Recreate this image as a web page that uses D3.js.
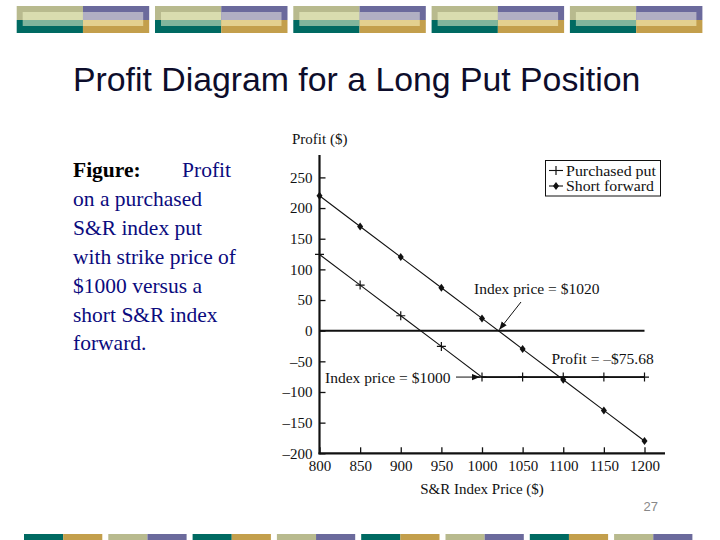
<!DOCTYPE html>
<html>
<head>
<meta charset="utf-8">
<script src="https://cdn.jsdelivr.net/npm/d3@7"></script>
<style>
  body { margin: 0; background: #fff; }
  svg { display: block; }
</style>
</head>
<body>
<svg id="slide" width="720" height="540"></svg>
<script>
// ------------------------------- DATA ----------------------------------------------

const indexPrices = [800, 850, 900, 950, 1000, 1050, 1100, 1150, 1200]; // S&R index price ($)
const putProfit = [124.32, 74.32, 24.32, -25.68, -75.68, -75.68, -75.68, -75.68, -75.68]; // purchased put
const forwardProfit = [220, 170, 120, 70, 20, -30, -80, -130, -180]; // short forward
const yTicks = [-200, -150, -100, -50, 0, 50, 100, 150, 200, 250];
const xTicks = [800, 850, 900, 950, 1000, 1050, 1100, 1150, 1200];
const legendLabels = ['Purchased put', 'Short forward'];

const captionLines = [
  'on a purchased',
  'S&R index put',
  'with strike price of',
  '$1000 versus a',
  'short S&R index',
  'forward.',
];

// banner colours: [outer, inset] for each quadrant
const topColors = {
  tl: ['#b8ba8e', '#d9dcaf'],
  tr: ['#6b6a9c', '#b1afc3'],
  bl: ['#006a62', '#80b59c'],
  br: ['#c39f4c', '#e3d08f'],
};
const bottomPairs = [
  ['#006a62', '#c39f4c'],
  ['#b8ba8e', '#6b6a9c'],
];

// ------------------------------- SETUP ----------------------------------------------

const svg = d3.select('#slide');
const serif = '"Liberation Serif", "Times New Roman", serif';
const sans = '"Liberation Sans", Arial, sans-serif';

// ------------------------------- BANNERS ----------------------------------------------

const topBanner = svg.append('g');
d3.range(5).forEach((i) => {
  const x0 = 16.7 + i * 138.3;
  const w = 132.5;
  const mid = x0 + w / 2;
  const x1 = x0 + w;
  const b = topBanner.append('g');
  // outer quadrants
  b.append('rect').attr('x', x0).attr('y', 6).attr('width', mid - x0).attr('height', 14).attr('fill', topColors.tl[0]);
  b.append('rect').attr('x', mid).attr('y', 6).attr('width', x1 - mid).attr('height', 14).attr('fill', topColors.tr[0]);
  b.append('rect').attr('x', x0).attr('y', 20).attr('width', mid - x0).attr('height', 13).attr('fill', topColors.bl[0]);
  b.append('rect').attr('x', mid).attr('y', 20).attr('width', x1 - mid).attr('height', 13).attr('fill', topColors.br[0]);
  // lighter inset
  b.append('rect').attr('x', x0 + 6).attr('y', 12).attr('width', mid - x0 - 6).attr('height', 8).attr('fill', topColors.tl[1]);
  b.append('rect').attr('x', mid).attr('y', 12).attr('width', x1 - mid - 6).attr('height', 8).attr('fill', topColors.tr[1]);
  b.append('rect').attr('x', x0 + 6).attr('y', 20).attr('width', mid - x0 - 6).attr('height', 6).attr('fill', topColors.bl[1]);
  b.append('rect').attr('x', mid).attr('y', 20).attr('width', x1 - mid - 6).attr('height', 6).attr('fill', topColors.br[1]);
});

const bottomBanner = svg.append('g');
d3.range(8).forEach((i) => {
  const x0 = 24 + i * 84.3;
  const w = 78.3;
  const pair = bottomPairs[i % 2];
  bottomBanner.append('rect').attr('x', x0).attr('y', 534).attr('width', w / 2).attr('height', 6).attr('fill', pair[0]);
  bottomBanner.append('rect').attr('x', x0 + w / 2).attr('y', 534).attr('width', w / 2).attr('height', 6).attr('fill', pair[1]);
});

// ------------------------------- TITLE + CAPTION ----------------------------------------------

svg.append('text')
  .attr('x', 73)
  .attr('y', 90.5)
  .attr('font-family', sans)
  .attr('font-size', 33.8)
  .attr('fill', '#0d0d2b')
  .text('Profit Diagram for a Long Put Position');

const caption = svg.append('g').attr('font-family', serif).attr('font-size', 21.5);
caption.append('text')
  .attr('x', 73).attr('y', 177)
  .attr('font-weight', 'bold').attr('fill', '#000')
  .text('Figure:');
caption.append('text')
  .attr('x', 231).attr('y', 177)
  .attr('text-anchor', 'end').attr('fill', '#0b0b7e')
  .text('Profit');
caption.selectAll('text.line')
  .data(captionLines)
  .join('text')
  .attr('class', 'line')
  .attr('x', 73)
  .attr('y', (d, i) => 177 + (i + 1) * 28.9)
  .attr('fill', '#0b0b7e')
  .text((d) => d);

// ------------------------------- CHART ----------------------------------------------

const x = d3.scaleLinear().domain([800, 1200]).range([319.5, 644.5]);
const y = d3.scaleLinear().domain([-200, 250]).range([453.3, 177.4]);

const chart = svg.append('g').attr('font-family', serif).attr('fill', '#111');

// axes with inward ticks
const yAxis = chart.append('g')
  .attr('transform', `translate(${x(800)},0)`)
  .call(d3.axisLeft(y).tickValues(yTicks).tickSize(-6).tickPadding(7)
    .tickFormat((d) => (d < 0 ? '\u2013' + Math.abs(d) : d)));
yAxis.select('.domain').remove();
yAxis.selectAll('line').attr('stroke', '#111').attr('stroke-width', 1.3);
yAxis.selectAll('text').attr('font-family', serif).attr('font-size', 15).attr('fill', '#111');

const xAxis = chart.append('g')
  .attr('transform', `translate(0,${y(-200)})`)
  .call(d3.axisBottom(x).tickValues(xTicks).tickSize(-6).tickPadding(13)
    .tickFormat((d) => String(d)));
xAxis.select('.domain').remove();
xAxis.selectAll('line').attr('stroke', '#111').attr('stroke-width', 1.3);
xAxis.selectAll('text').attr('font-family', serif).attr('font-size', 15).attr('fill', '#111').attr('dy', '0.3em');

// axis lines
chart.append('line')
  .attr('x1', x(800)).attr('x2', x(800))
  .attr('y1', 155).attr('y2', y(-200) + 1)
  .attr('stroke', '#111').attr('stroke-width', 2.2);
chart.append('line')
  .attr('x1', x(800) - 1).attr('x2', 665)
  .attr('y1', y(-200)).attr('y2', y(-200))
  .attr('stroke', '#111').attr('stroke-width', 2.2);

// zero line
chart.append('line')
  .attr('x1', x(800)).attr('x2', x(1200))
  .attr('y1', y(0)).attr('y2', y(0))
  .attr('stroke', '#111').attr('stroke-width', 2);

// axis titles
chart.append('text')
  .attr('x', 292).attr('y', 144)
  .attr('font-size', 15)
  .text('Profit ($)');
chart.append('text')
  .attr('x', 482).attr('y', 494)
  .attr('text-anchor', 'middle')
  .attr('font-size', 15)
  .text('S&R Index Price ($)');

// series
const putData = indexPrices.map((p, i) => ({ price: p, profit: putProfit[i] }));
const fwdData = indexPrices.map((p, i) => ({ price: p, profit: forwardProfit[i] }));

const line = d3.line().x((d) => x(d.price)).y((d) => y(d.profit));

chart.append('path')
  .datum(fwdData)
  .attr('d', line)
  .attr('fill', 'none')
  .attr('stroke', '#111')
  .attr('stroke-width', 1.1);

chart.append('path')
  .datum(putData)
  .attr('d', line)
  .attr('fill', 'none')
  .attr('stroke', '#111')
  .attr('stroke-width', 1.1);

// thicker flat part of the put (above strike it's constant)
chart.append('line')
  .attr('x1', x(1000)).attr('x2', x(1200))
  .attr('y1', y(-75.68)).attr('y2', y(-75.68))
  .attr('stroke', '#111').attr('stroke-width', 1.6);

function plusPath(cx, cy) {
  return `M${cx - 4.5},${cy}H${cx + 4.5}M${cx},${cy - 4.5}V${cy + 4.5}`;
}
function diamondPath(cx, cy) {
  return `M${cx},${cy - 4}L${cx + 3},${cy}L${cx},${cy + 4}L${cx - 3},${cy}Z`;
}

chart.selectAll('path.put-mark')
  .data(putData)
  .join('path')
  .attr('class', 'put-mark')
  .attr('d', (d) => plusPath(x(d.price), y(d.profit)))
  .attr('stroke', '#111')
  .attr('stroke-width', 1.2)
  .attr('fill', 'none');

chart.selectAll('path.fwd-mark')
  .data(fwdData)
  .join('path')
  .attr('class', 'fwd-mark')
  .attr('d', (d) => diamondPath(x(d.price), y(d.profit)))
  .attr('fill', '#111');

// legend
const legend = chart.append('g');
legend.append('rect')
  .attr('x', 545.5).attr('y', 160.5)
  .attr('width', 115).attr('height', 35.5)
  .attr('fill', '#fff').attr('stroke', '#111').attr('stroke-width', 1);
legendLabels.forEach((label, i) => {
  const cy = 170.5 + i * 15.5;
  legend.append('line')
    .attr('x1', 549).attr('x2', 563).attr('y1', cy).attr('y2', cy)
    .attr('stroke', '#111').attr('stroke-width', 1.1);
  legend.append('path')
    .attr('d', i === 0 ? plusPath(556, cy) : diamondPath(556, cy))
    .attr('stroke', i === 0 ? '#111' : 'none')
    .attr('stroke-width', 1.2)
    .attr('fill', i === 0 ? 'none' : '#111');
  legend.append('text')
    .attr('x', 566).attr('y', cy + 5)
    .attr('font-size', 14.5)
    .attr('textLength', i === 0 ? 90 : 88)
    .attr('lengthAdjust', 'spacingAndGlyphs')
    .text(label);
});

// annotations
svg.append('defs').append('marker')
  .attr('id', 'arrow')
  .attr('viewBox', '0 0 10 10')
  .attr('refX', 10).attr('refY', 5)
  .attr('markerWidth', 8).attr('markerHeight', 8)
  .attr('markerUnits', 'userSpaceOnUse')
  .attr('orient', 'auto')
  .append('path')
  .attr('d', 'M0,1L10,5L0,9Z')
  .attr('fill', '#111');

chart.append('text')
  .attr('x', 474).attr('y', 294)
  .attr('font-size', 15.5)
  .text('Index price = $1020');
chart.append('line')
  .attr('x1', 521).attr('y1', 302)
  .attr('x2', x(1020) + 1).attr('y2', y(0) - 1)
  .attr('stroke', '#111').attr('stroke-width', 1)
  .attr('marker-end', 'url(#arrow)');

chart.append('text')
  .attr('x', 551.5).attr('y', 364)
  .attr('font-size', 15.5)
  .text('Profit = \u2013$75.68');

chart.append('text')
  .attr('x', 325).attr('y', 382.5)
  .attr('font-size', 15.5)
  .text('Index price = $1000');
chart.append('line')
  .attr('x1', 456).attr('y1', y(-75.68))
  .attr('x2', x(1000) - 2).attr('y2', y(-75.68))
  .attr('stroke', '#111').attr('stroke-width', 1)
  .attr('marker-end', 'url(#arrow)');

// page number
svg.append('text')
  .attr('x', 658).attr('y', 511)
  .attr('text-anchor', 'end')
  .attr('font-family', sans)
  .attr('font-size', 13)
  .attr('fill', '#888')
  .text('27');
</script>
</body>
</html>
